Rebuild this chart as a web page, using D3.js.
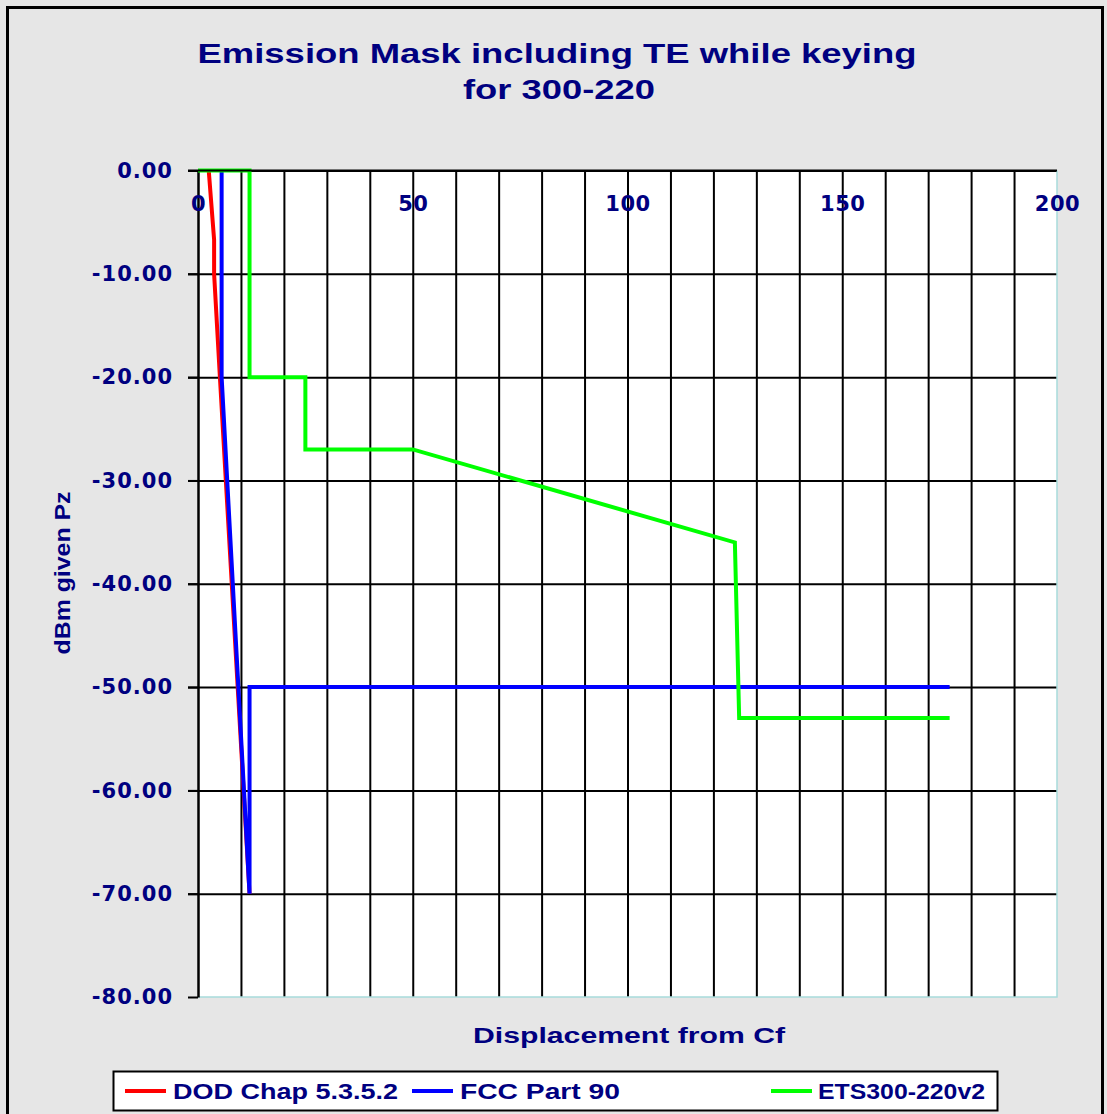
<!DOCTYPE html>
<html>
<head>
<meta charset="utf-8">
<script src="https://cdn.jsdelivr.net/npm/d3@7"></script>
<style>
   body { margin: 0; background: #e6e6e6; }
   svg { display: block; }
</style>
</head>
<body>
<svg class="mask-chart"></svg>
<script>
// series: displacement from Cf vs dBm given Pz
const dodX = [2.5, 3.75, 3.75, 5.1, 12];
const dodY = [0, -6.7, -10, -20, -70];
const fccX = [5.5, 5.5, 12, 12, 175];
const fccY = [0, -20, -70, -50, -50];
const etsX = [0, 12, 12, 25, 25, 50, 125, 126, 175];
const etsY = [0, 0, -20, -20, -27, -27, -36, -53, -53];

const seriesNames = ["DOD Chap 5.3.5.2", "FCC Part 90", "ETS300-220v2"];
const xTicks = [0, 50, 100, 150, 200];
const yTicks = [0, -10, -20, -30, -40, -50, -60, -70, -80];

const width = 1107, height = 1114;
const plotL = 198, plotR = 1057, plotT = 170.5, plotB = 997;
const navy = "#000080";
const colors = ["#ff0000", "#0000ff", "#00ff00"];

const svg = d3.select("svg.mask-chart")
   .attr("width", width)
   .attr("height", height);

// backdrop + frame
svg.append("rect")
   .attr("x", 0).attr("y", 0)
   .attr("width", width).attr("height", height)
   .attr("fill", "#e6e6e6");

svg.append("rect")
   .attr("x", 7.5).attr("y", 7.5)
   .attr("width", 1095).attr("height", 1120)
   .attr("fill", "none")
   .attr("stroke", "#000")
   .attr("stroke-width", 3);

const xScale = d3.scaleLinear().domain([0, 200]).range([plotL, plotR]);
const yScale = d3.scaleLinear().domain([0, -80]).range([plotT, plotB]);

// plot area
svg.append("rect")
   .attr("x", plotL).attr("y", plotT)
   .attr("width", plotR - plotL).attr("height", plotB - plotT)
   .attr("fill", "#fff");

// vertical grid every 10
svg.append("g")
   .attr("transform", `translate(0,${plotB})`)
   .call(d3.axisBottom(xScale)
      .tickValues(d3.range(10, 200, 10))
      .tickSize(-(plotB - plotT))
      .tickFormat(""))
   .call(g => g.select(".domain").remove())
   .call(g => g.selectAll(".tick line").attr("stroke", "#000").attr("stroke-width", 2));

// horizontal grid, reaching out past the axis as ticks
svg.append("g")
   .attr("transform", `translate(${plotR},0)`)
   .call(d3.axisLeft(yScale)
      .tickValues(yTicks.slice(0, -1))
      .tickSize(plotR - plotL + 10)
      .tickFormat(""))
   .call(g => g.select(".domain").remove())
   .call(g => g.selectAll(".tick line").attr("stroke", "#000").attr("stroke-width", 2));

// light border on right and bottom
svg.append("path")
   .attr("d", `M${plotL},${plotB}H${plotR}V${plotT}`)
   .attr("fill", "none")
   .attr("stroke", "#a8dcdc")
   .attr("stroke-width", 1.5);

// y axis with labels
svg.append("g")
   .attr("transform", `translate(${plotL},0)`)
   .call(d3.axisLeft(yScale)
      .tickValues(yTicks)
      .tickSizeOuter(0)
      .tickSizeInner(10)
      .tickPadding(15)
      .tickFormat(d => d.toFixed(2)))
   .call(g => g.select(".domain").attr("stroke", "#000").attr("stroke-width", 2.5))
   .call(g => g.selectAll(".tick line").attr("stroke", "#000").attr("stroke-width", 2))
   .call(g => g.selectAll("text")
      .attr("fill", navy)
      .style("font-family", "'DejaVu Sans'")
      .style("font-weight", "bold")
      .style("font-size", "21px")
      .style("letter-spacing", "1px"));

// x labels sit just under the top edge
svg.append("g")
   .attr("transform", `translate(0,${plotT})`)
   .call(d3.axisBottom(xScale)
      .tickValues(xTicks)
      .tickSize(0)
      .tickPadding(26))
   .call(g => g.select(".domain").remove())
   .call(g => g.selectAll("text")
      .attr("fill", navy)
      .style("font-family", "'DejaVu Sans'")
      .style("font-weight", "bold")
      .style("font-size", "21px")
      .style("letter-spacing", "0.5px"));

// series lines
const line = d3.line()
   .x(d => xScale(d[0]))
   .y(d => yScale(d[1]));

const series = [
   d3.zip(dodX, dodY),
   d3.zip(fccX, fccY),
   d3.zip(etsX, etsY)
];

svg.append("g")
   .selectAll(null)
   .data(series)
   .join("path")
   .attr("d", line)
   .attr("fill", "none")
   .attr("stroke", (d, i) => colors[i])
   .attr("stroke-width", 4)
   .attr("stroke-linejoin", "miter");

// top edge of plot (0 dB line)
svg.append("line")
   .attr("x1", plotL - 10).attr("x2", plotR)
   .attr("y1", plotT).attr("y2", plotT)
   .attr("stroke", "#000")
   .attr("stroke-width", 2);

// texts
function addText(str, x, y, size, len, rotate) {
   const t = svg.append("text")
      .attr("x", x).attr("y", y)
      .attr("text-anchor", "middle")
      .attr("fill", navy)
      .style("font-family", "'Liberation Sans', Arial, sans-serif")
      .style("font-weight", "bold")
      .style("font-size", size + "px")
      .attr("textLength", len)
      .attr("lengthAdjust", "spacingAndGlyphs")
      .text(str);
   if (rotate) t.attr("transform", `rotate(-90,${x},${y})`);
   return t;
}

addText("Emission Mask including TE while keying", 557, 63, 27, 719);
addText("for 300-220", 559, 99, 27, 192);
addText("Displacement from Cf", 629, 1043, 22, 312);
addText("dBm given Pz", 70, 573, 22, 163, true);

// legend
const legend = svg.append("g");

legend.append("rect")
   .attr("x", 113.5).attr("y", 1071.5)
   .attr("width", 884).attr("height", 39)
   .attr("fill", "#fff")
   .attr("stroke", "#000")
   .attr("stroke-width", 2);

const legendLineX = [125, 412, 771];
const legendTextX = [173, 460, 818];
const legendTextW = [225, 160, 167];

legend.selectAll("line")
   .data(seriesNames)
   .join("line")
   .attr("x1", (d, i) => legendLineX[i])
   .attr("x2", (d, i) => legendLineX[i] + 41)
   .attr("y1", 1091).attr("y2", 1091)
   .attr("stroke", (d, i) => colors[i])
   .attr("stroke-width", 4);

legend.selectAll("text")
   .data(seriesNames)
   .join("text")
   .attr("x", (d, i) => legendTextX[i])
   .attr("y", 1099)
   .attr("fill", navy)
   .style("font-family", "'Liberation Sans', Arial, sans-serif")
   .style("font-weight", "bold")
   .style("font-size", "22px")
   .attr("textLength", (d, i) => legendTextW[i])
   .attr("lengthAdjust", "spacingAndGlyphs")
   .text(d => d);
</script>
</body>
</html>
